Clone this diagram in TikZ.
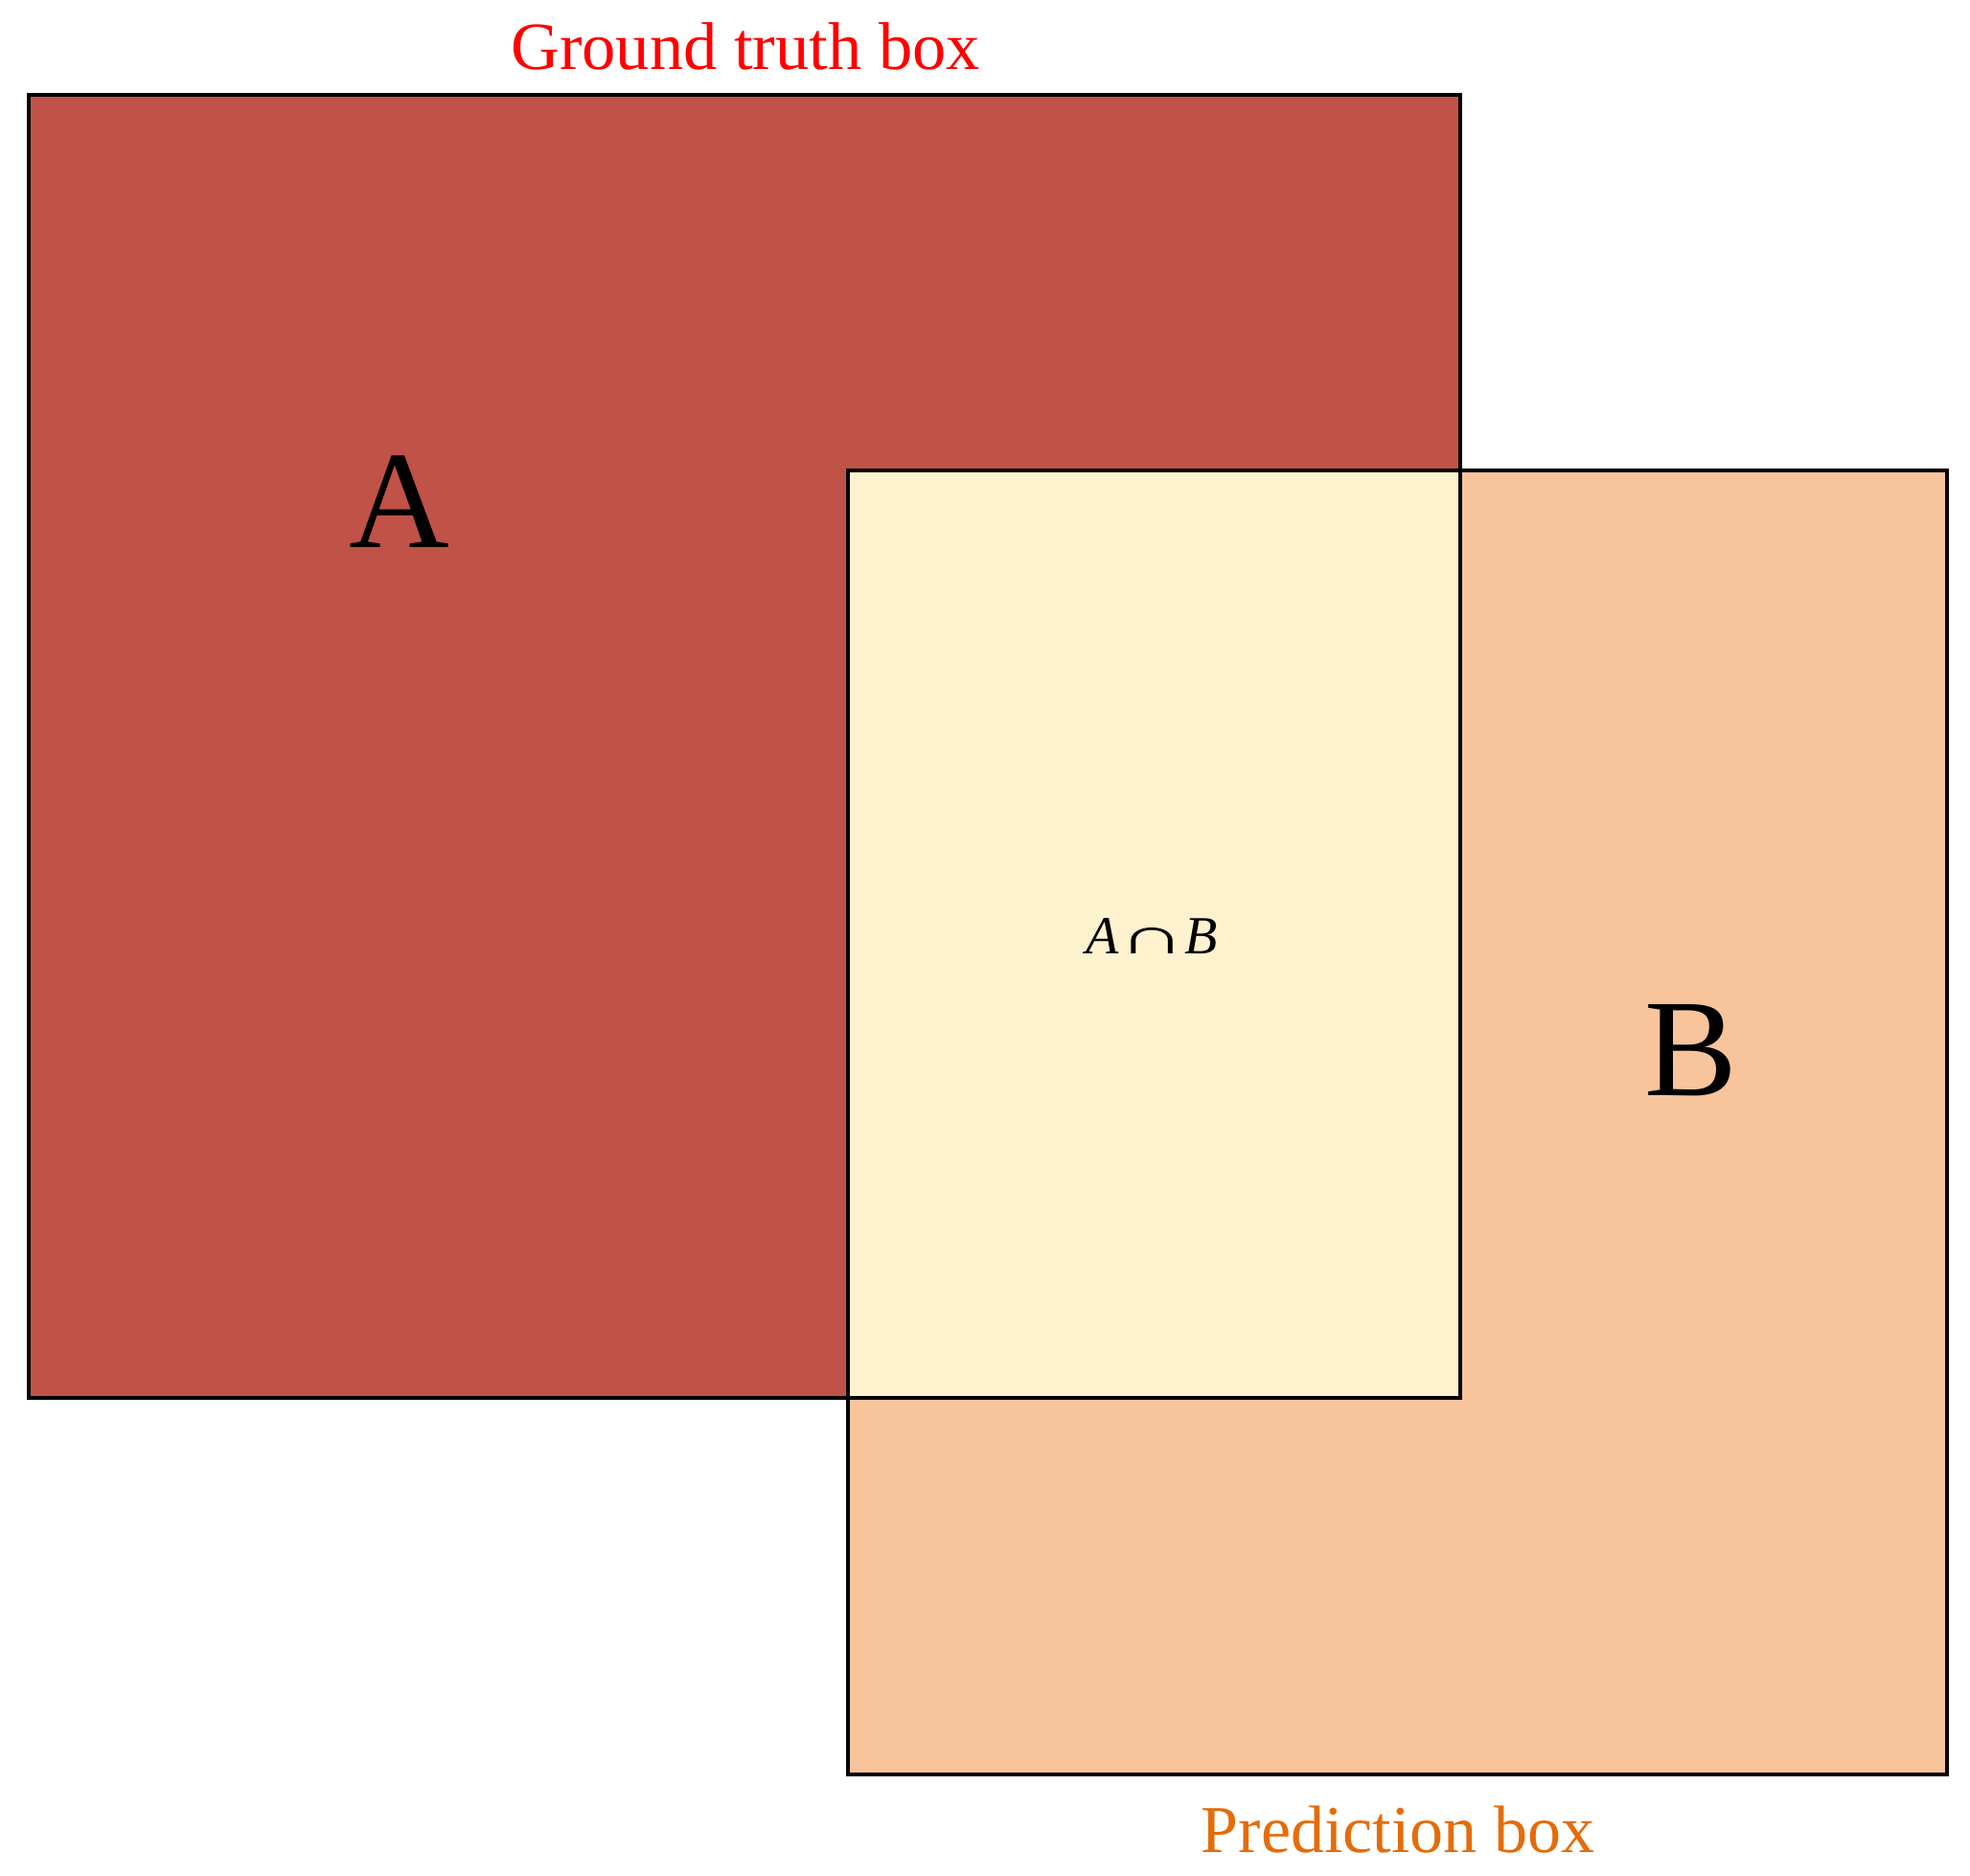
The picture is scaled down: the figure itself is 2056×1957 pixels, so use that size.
\documentclass[tikz,border=0pt]{standalone}
\usepackage{fontspec}
\usepackage{graphicx}
\setmainfont{Liberation Serif}
\definecolor{gtred}{RGB}{192,82,72}
\definecolor{predpeach}{RGB}{248,196,156}
\definecolor{interyellow}{RGB}{255,242,207}
\definecolor{labelred}{RGB}{255,0,0}
\definecolor{labelorange}{RGB}{228,108,10}
\tikzset{
  boxline/.style={draw=black, line width=4.5pt},
  biglabel/.style={anchor=base, inner sep=0pt, font=\fontsize{145}{170}\selectfont},
}
\begin{document}
\begin{tikzpicture}[x=1pt,y=-1pt]
\useasboundingbox (0,0) rectangle (2056,1957);
% corners
\coordinate (A1) at (30,99);
\coordinate (A2) at (1524,1459);
\coordinate (B1) at (885,491);
\coordinate (B2) at (2032,1852);
% fills
\fill[gtred] (A1) rectangle (A2);
\fill[predpeach] (B1) rectangle (B2);
\fill[interyellow] (B1) rectangle (A2);
% outlines
\draw[boxline] (A1) rectangle (A2);
\draw[boxline] (B1) rectangle (B2);
% labels
\node[anchor=base, inner sep=0pt, font=\fontsize{70.5}{84}\selectfont, text=labelred] (gt) at (778,72) {Ground truth box};
\node[anchor=base, inner sep=0pt, font=\fontsize{70}{84}\selectfont, text=labelorange] (pred) at (1459,1933) {Prediction box};
\node[biglabel] (la) at (417,571) {A};
\node[biglabel] (lb) at (1765,1143) {B};
\node[anchor=base, inner sep=0pt, font=\fontsize{56}{66}\selectfont] (lab) at (1202,995) {\textit{A}\hspace{-1pt}\resizebox{70pt}{27pt}{∩}\hspace{-1pt}\textit{B}};
\end{tikzpicture}
\end{document}
